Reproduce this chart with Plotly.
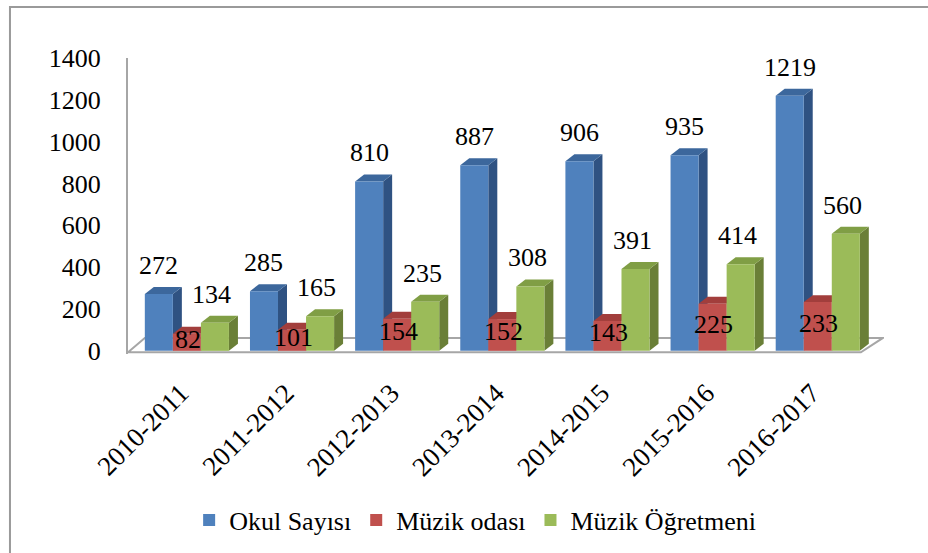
import plotly.graph_objects as go

categories = ["2010-2011", "2011-2012", "2012-2013", "2013-2014", "2014-2015", "2015-2016", "2016-2017"]
okul = [272, 285, 810, 887, 906, 935, 1219]
oda = [82, 101, 154, 152, 143, 225, 233]
ogretmen = [134, 165, 235, 308, 391, 414, 560]
series_names = ["Okul Sayısı", "Müzik odası", "Müzik Öğretmeni"]
y_ticks = [0, 200, 400, 600, 800, 1000, 1200, 1400]

front_colors = ["#4F81BD", "#C0504D", "#9BBB59"]
side_colors = ["#2F5282", "#8E3533", "#6A7F37"]
top_colors = ["#3C679C", "#A23E3C", "#809E45"]

W, H = 928, 553
K = 0.2095          # px per unit
Y0PX = 351          # pixel of y=0
YMIN, YMAX = -15, 1400
UNIT = 105.2        # px per category
X0PX = 187
XMIN, XMAX = -0.56, 6.63

m_t = Y0PX - YMAX * K
m_b = H - (Y0PX - YMIN * K)
m_l = X0PX + XMIN * UNIT
m_r = W - (X0PX + XMAX * UNIT)
plot_w = W - m_l - m_r
plot_h = H - m_t - m_b

FONT = "Liberation Serif"
BARGAP = 0.2
bw = (1 - BARGAP) / 3
DX = 9 / UNIT
DY = 7 / K

xs = list(range(len(categories)))
all_series = [okul, oda, ogretmen]

fig = go.Figure()
for s, (name, vals) in enumerate(zip(series_names, all_series)):
    fig.add_trace(go.Bar(
        x=xs, y=vals, name=name,
        marker=dict(color=front_colors[s], line=dict(width=0)),
        hoverinfo="x+y",
    ))

shapes = []
# floor
fl_front, fl_back = -7, 62
shapes.append(dict(
    type="path", xref="x", yref="y", layer="below",
    path=f"M {XMIN},{fl_front} L 6.41,{fl_front} L 6.62,{fl_back} L -0.40,{fl_back} Z",
    fillcolor="white", line=dict(color="#A6A6A6", width=2),
))
# 3D faces
for s, vals in enumerate(all_series):
    off = (s - 1) * bw
    for i, v in enumerate(vals):
        xl = i + off - bw / 2
        xr = i + off + bw / 2
        shapes.append(dict(
            type="path", xref="x", yref="y", layer="below",
            path=f"M {xr},0 L {xr+DX},{DY} L {xr+DX},{v+DY} L {xr},{v} Z",
            fillcolor=side_colors[s], line=dict(width=0),
        ))
        shapes.append(dict(
            type="path", xref="x", yref="y", layer="below",
            path=f"M {xl},{v} L {xl+DX},{v+DY} L {xr+DX},{v+DY} L {xr},{v} Z",
            fillcolor=top_colors[s], line=dict(width=0),
        ))

def px2paper_x(px):
    return (px - m_l) / plot_w

def px2paper_y(py):
    return (H - m_b - py) / plot_h

# outer frame (only left and top edges visible)
shapes.append(dict(
    type="rect", xref="paper", yref="paper",
    x0=px2paper_x(10), x1=px2paper_x(960), y0=px2paper_y(580), y1=px2paper_y(6.5),
    line=dict(color="#9A9A9A", width=2), fillcolor="rgba(0,0,0,0)", layer="above",
))

annotations = []
for s, vals in enumerate(all_series):
    off = (s - 1) * bw
    for i, v in enumerate(vals):
        if s == 1:
            annotations.append(dict(
                x=i + off + 0.01, y=v / 2, xref="x", yref="y", text=str(v),
                showarrow=False, yanchor="middle", yshift=3,
                font=dict(family=FONT, size=26, color="black"),
            ))
        else:
            annotations.append(dict(
                x=i + off - (0.0 if s == 0 else 0.03), y=v, xref="x", yref="y", text=str(v),
                showarrow=False, yanchor="bottom", yshift=12,
                font=dict(family=FONT, size=26, color="black"),
            ))

fig.update_layout(
    width=W, height=H, autosize=False,
    margin=dict(l=m_l, r=m_r, t=m_t, b=m_b, pad=0),
    paper_bgcolor="white", plot_bgcolor="rgba(0,0,0,0)",
    barmode="group", bargap=BARGAP, bargroupgap=0,
    font=dict(family=FONT, size=26, color="black"),
    shapes=shapes, annotations=annotations,
    showlegend=True,
    legend=dict(
        orientation="h", xref="container", yref="container",
        x=0.512, y=1 - 520 / H, xanchor="center", yanchor="middle",
        font=dict(family=FONT, size=26, color="black"),
        itemwidth=30, tracegroupgap=0, bgcolor="rgba(0,0,0,0)",
    ),
    xaxis=dict(
        range=[XMIN, XMAX], tickvals=xs, ticktext=categories,
        tickangle=-45, showgrid=False, zeroline=False, showline=False,
        ticks="", ticklabelshift=-6, ticklabelstandoff=17,
        tickfont=dict(family=FONT, size=27, color="black"),
    ),
    yaxis=dict(
        range=[YMIN, YMAX], tickvals=y_ticks, showgrid=False, zeroline=False,
        showline=True, linecolor="#A6A6A6", linewidth=2, ticks="",
        ticklabelstandoff=20,
        tickfont=dict(family=FONT, size=26, color="black"),
    ),
)

fig.write_html("out.html", config={"displayModeBar": False},
               post_script="document.body.style.margin='0';")
